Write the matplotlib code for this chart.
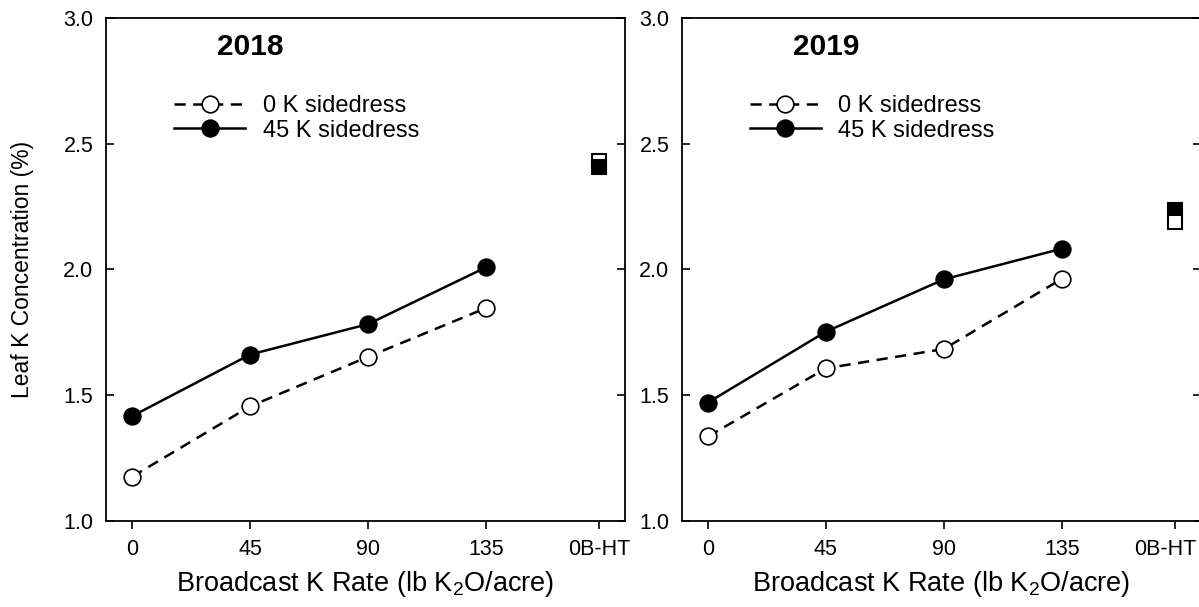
import numpy as np
import matplotlib
matplotlib.use("Agg")
import matplotlib.pyplot as plt
import matplotlib.transforms as mtransforms

plt.rcParams['font.family'] = ['Liberation Sans', 'DejaVu Sans']
plt.rcParams['mathtext.fontset'] = 'custom'
plt.rcParams['mathtext.rm'] = 'Liberation Sans'
plt.rcParams['mathtext.it'] = 'Liberation Sans:italic'

# broadcast K rates (lb K2O/acre) and the 0B-HT check position
rates = [0, 45, 90, 135]
check_x = 178
tick_pos = [0, 45, 90, 135, 178]
tick_labels = ['0', '45', '90', '135', '0B-HT']

# leaf K concentration (%)
k0_2018 = [1.175, 1.455, 1.652, 1.846]
k45_2018 = [1.416, 1.661, 1.782, 2.008]
check_open_2018 = 2.43
check_fill_2018 = 2.407

k0_2019 = [1.335, 1.606, 1.683, 1.962]
k45_2019 = [1.47, 1.752, 1.96, 2.082]
check_open_2019 = 2.19
check_fill_2019 = 2.236

panels = [
    ('2018', k0_2018, k45_2018, check_open_2018, check_fill_2018, False),
    ('2019', k0_2019, k45_2019, check_open_2019, check_fill_2019, True),
]

fig = plt.figure(figsize=(11.99, 6.07), dpi=100)
ax1 = fig.add_axes([0.0884, 0.1422, 0.4329, 0.8283])
ax2 = fig.add_axes([0.5686, 0.1422, 0.4329, 0.8283])

for ax, (year, k0, k45, c_open, c_fill, open_on_top) in zip([ax1, ax2], panels):
    ax.plot(rates, k0, color='black', lw=1.8, ls=(0, (4.5, 3)), marker='o', ms=12,
            mfc='white', mec='black', mew=1.2, label='0 K sidedress', zorder=3)
    ax.plot(rates, k45, color='black', lw=1.8, ls='-', marker='o', ms=12,
            mfc='black', mec='black', mew=1.2, label='45 K sidedress', zorder=3)

    z_open, z_fill = (5, 4) if open_on_top else (4, 5)
    ax.plot([check_x], [c_open], marker='s', ms=9.5, mfc='white', mec='black',
            mew=1.5, ls='none', zorder=z_open)
    ax.plot([check_x], [c_fill], marker='s', ms=9.5, mfc='black', mec='black',
            mew=1.5, ls='none', zorder=z_fill)

    ax.set_xlim(-10, 188)
    ax.set_ylim(1.0, 3.0)
    ax.set_xticks(tick_pos)
    ax.set_xticklabels(tick_labels)
    ax.set_yticks([1.0, 1.5, 2.0, 2.5, 3.0])
    ax.set_yticklabels(['1.0', '1.5', '2.0', '2.5', '3.0'])
    ax.tick_params(axis='x', direction='out', length=6, width=1.2, pad=7,
                   labelsize=15.5, top=False)
    ax.tick_params(axis='y', direction='in', length=6, width=1.2, pad=9,
                   labelsize=15.5, right=True)
    for s in ax.spines.values():
        s.set_linewidth(1.3)

    ax.text(45, 2.885, year, ha='center', va='center', fontsize=21.5,
            fontweight='bold')
    ax.set_xlabel('Broadcast K Rate (lb K$_2$O/acre)', fontsize=19.5, labelpad=7)

    ax.legend(loc='upper left', bbox_to_anchor=(0.113, 0.865), frameon=False,
              fontsize=17, handlelength=3.0, handletextpad=0.75,
              labelspacing=0.1, borderaxespad=0)

# the last label of the right panel sits a little left of its tick
lab = ax2.get_xticklabels()[-1]
lab.set_transform(lab.get_transform() +
                  mtransforms.ScaledTranslation(-9 / 100, 0, fig.dpi_scale_trans))

ax1.set_ylabel('Leaf K Concentration (%)', fontsize=16.5, labelpad=21)

fig.savefig('out.png', dpi=100)
